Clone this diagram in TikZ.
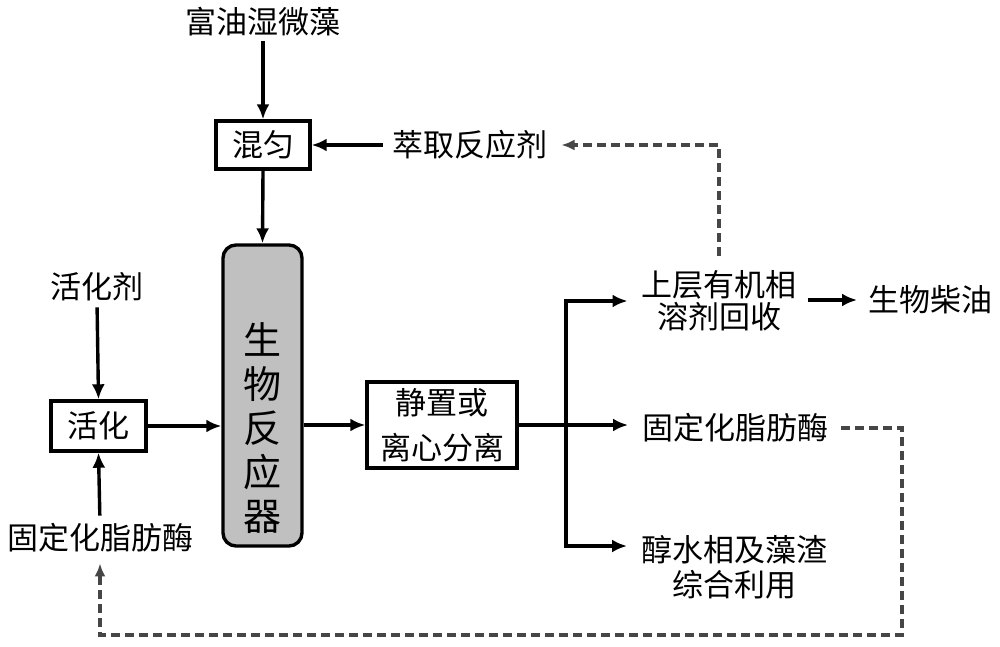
\documentclass[tikz,border=0pt]{standalone}
\usepackage{fontspec}
\setmainfont{Noto Sans CJK SC}
\usetikzlibrary{arrows.meta,calc}
\definecolor{dashc}{RGB}{70,70,70}
\definecolor{reactc}{RGB}{192,192,192}
\tikzset{
 lbl/.style={inner sep=0pt, outer sep=0pt, font=\fontsize{31}{36}\selectfont},
 boxn/.style={draw, line width=3.4pt, inner sep=0pt, font=\fontsize{31}{36}\selectfont},
 flow/.style={line width=3.4pt, -{Latex[length=15pt,width=13pt]}},
 plainline/.style={line width=3.4pt},
 recyc/.style={line width=3.2pt, dashc, dash pattern=on 9pt off 5pt, -{Latex[length=13pt,width=11pt]}},
}
\begin{document}
\begin{tikzpicture}[x=1pt,y=-1pt]
\useasboundingbox (0,0) rectangle (1000,647);
\node[lbl] (feed) at (263,22) {富油湿微藻};
\node[boxn, minimum width=94pt, minimum height=48pt] (mix) at (263,145) {混匀};
\node[lbl] (ext) at (470,145) {萃取反应剂};
\node[draw, line width=3.4pt, fill=reactc, rounded corners=13pt, minimum width=79pt, minimum height=301pt] (reactor) at (262.5,395.5) {};
\node[lbl, font=\fontsize{38}{44}\selectfont, align=center] (rtext) at (262.5,428) {生\\物\\反\\应\\器};
\node[lbl] (agent) at (97,287) {活化剂};
\node[boxn, minimum width=95pt, minimum height=50pt] (act) at (98.5,426) {活化};
\node[lbl] (enzL) at (100,538) {固定化脂肪酶};
\node[boxn, minimum width=150pt, minimum height=86pt, align=center, font=\fontsize{31}{45}\selectfont] (sep) at (442,425) {静置或\\离心分离};
\node[lbl, align=center, font=\fontsize{31}{32}\selectfont] (upper) at (719,301) {上层有机相\\溶剂回收};
\node[lbl] (bio) at (930,300) {生物柴油};
\node[lbl] (enzR) at (735,428) {固定化脂肪酶};
\node[lbl, align=center, font=\fontsize{31}{35}\selectfont] (waste) at (734,567) {醇水相及藻渣\\综合利用};
\coordinate (trunkMid) at (566,425);
\coordinate (trunkBot) at (566,546);
\coordinate (rc3) at (902,635);
\coordinate (rc4) at (100,635);
% solid flows
\draw[flow, shorten <=5pt] (feed.south) -- (mix.north);
\draw[flow, shorten <=10pt] (ext.west) -- (mix.east);
\draw[flow] (mix.south) -- (reactor.north);
\draw[flow, shorten <=6pt] (agent.south) -- (act.north);
\draw[flow, shorten <=8pt] (enzL.north) -- (act.south);
\draw[flow] (act.east) -- (act.east -| reactor.west);
\draw[flow] (sep.west -| reactor.east) -- (sep.west);
\draw[plainline] (sep.east) -- (trunkMid);
\draw[flow, shorten >=14pt] (trunkMid) |- (upper.west);
\draw[flow, shorten >=14pt] (trunkMid) |- (trunkBot -| waste.west);
\draw[flow, shorten >=14pt] (sep.east) -- (sep.east -| enzR.west);
\draw[flow, shorten <=11pt, shorten >=11pt] (upper.east |- bio.west) -- (bio.west);
% recycle (dashed)
\draw[recyc, shorten <=15pt, shorten >=14pt] (upper.north) |- (ext.east);
\draw[recyc, shorten <=13pt, shorten >=11pt] (enzR.east) -| (rc3) -- (rc4) -- (enzL.south);
\end{tikzpicture}
\end{document}
